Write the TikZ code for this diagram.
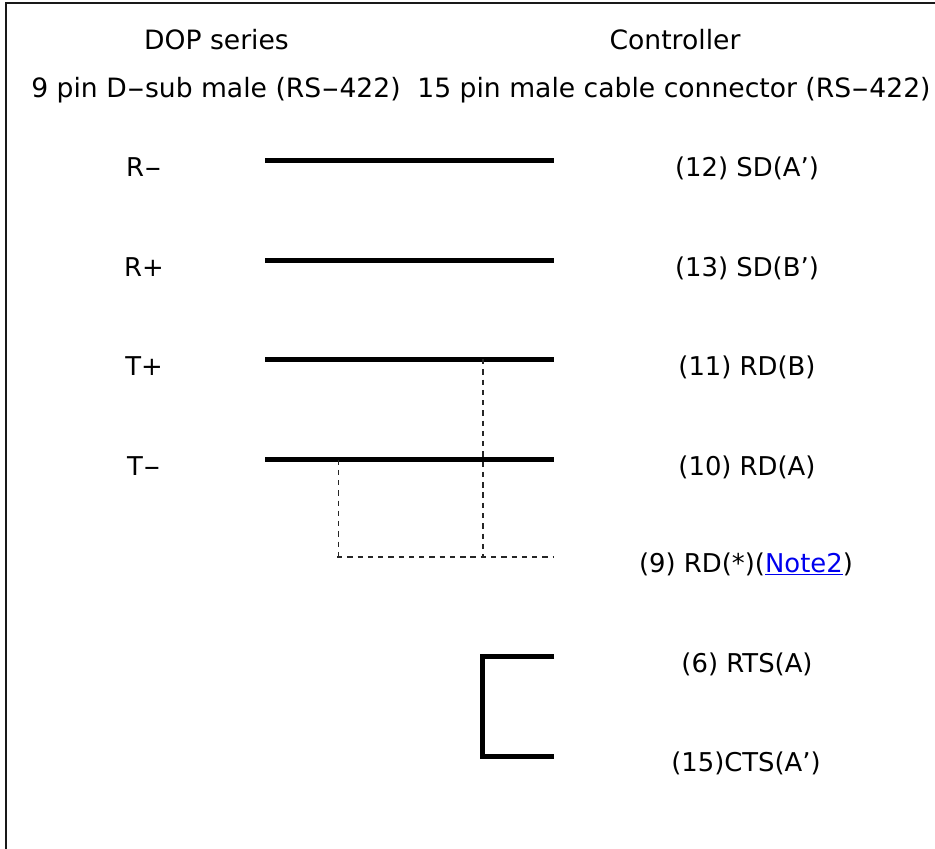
\documentclass[tikz,border=0pt]{standalone}
\usepackage{fontspec}
\setmainfont{DejaVu Sans}
\newcommand{\hy}{\raisebox{0pt}{\scalebox{1.9}[1]{-}}}
\tikzset{
  px/.style={x=0.75pt,y=-0.75pt},
  lbl/.style={inner sep=0pt,font=\fontsize{19.4pt}{22pt}\selectfont,text=black,anchor=base},
  head/.style={lbl,font=\fontsize{19.95pt}{22pt}\selectfont},
  wire/.style={line width=3.75pt,line cap=butt,line join=miter,black},
  jumper/.style={line width=1pt,black!85,dash pattern=on 4pt off 3.7pt},
  frame/.style={line width=1.5pt,draw=black!90}
}
\definecolor{linkblue}{RGB}{0,0,238}
\begin{document}
\begin{tikzpicture}[px]
\useasboundingbox (0,0) rectangle (935,849);
\clip (0,0) rectangle (935,849);
\draw[frame] (5.5,860) -- (5.5,3.5) -- (945,3.5);
\node[head] (h1) at (216.5,50) {DOP series};
\node[head] (h2) at (675,50) {Controller};
\node[head] (s1) at (216,98) {9 pin D\hy sub male (RS\hy 422)};
\node[head] (s2) at (674,98) {15 pin male cable connector (RS\hy 422)};
\node[lbl] (l1) at (144,176) {R\hy};
\node[lbl] (l2) at (144,276) {R+};
\node[lbl] (l3) at (144,375) {T+};
\node[lbl] (l4) at (144,475) {T\hy};
\node[lbl] (r1) at (747,176) {(12) SD(A')};
\node[lbl] (r2) at (747,276) {(13) SD(B')};
\node[lbl] (r3) at (747,375) {(11) RD(B)};
\node[lbl] (r4) at (747,475) {(10) RD(A)};
\node[lbl] (r5) at (746,572) {(9) RD(*)(\textcolor{linkblue}{\underline{Note2}})};
\node[lbl] (r6) at (747,672) {(6) RTS(A)};
\node[lbl] (r7) at (746,771) {(15)CTS(A')};
\coordinate (a1) at (265,160); \coordinate (b1) at (554,160);
\coordinate (a2) at (265,260); \coordinate (b2) at (554,260);
\coordinate (a3) at (265,359); \coordinate (b3) at (554,359);
\coordinate (a4) at (265,459.5); \coordinate (b4) at (554,459.5);
\coordinate (b6) at (554,656.5); \coordinate (b7) at (554,756.5);
\coordinate (c1) at (337,557); \coordinate (b5) at (554,557);
\coordinate (t3) at (483,359); \coordinate (t4) at (338.5,459.5);
\draw[wire] (a1) -- (b1);
\draw[wire] (a2) -- (b2);
\draw[wire] (a3) -- (b3);
\draw[wire] (a4) -- (b4);
\draw[wire] (b6) -- (482.5,656.5) -- (482.5,756.5) -- (b7);
\draw[jumper] (t3) -- (483,557);
\draw[jumper] (t4) -- (338.5,557);
\draw[jumper] (c1) -- (b5);
\end{tikzpicture}
\end{document}
